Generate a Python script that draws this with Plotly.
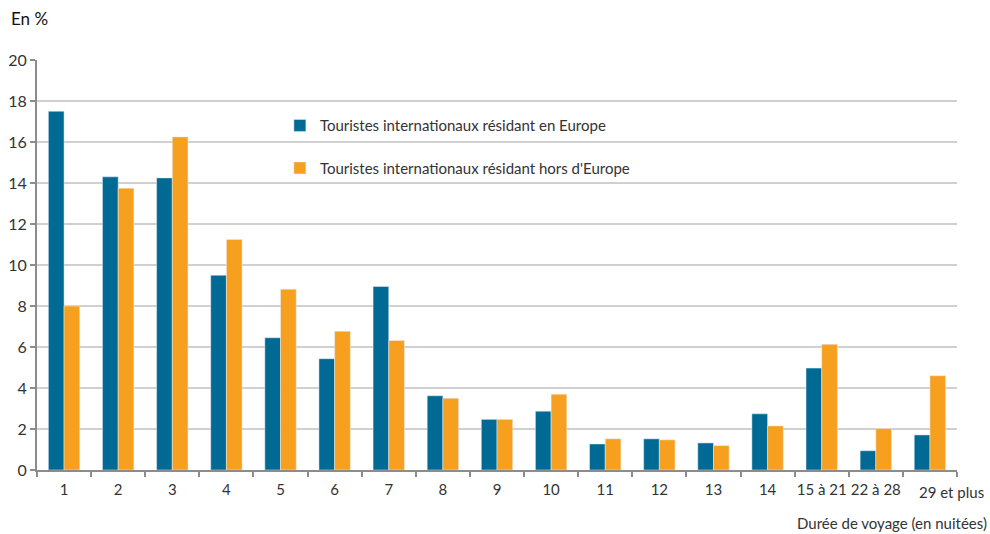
import plotly.graph_objects as go

categories = ["1", "2", "3", "4", "5", "6", "7", "8", "9", "10", "11", "12", "13", "14",
              "15 à 21", "22 à 28", "29 et plus"]
europe = [17.5, 14.3, 14.25, 9.5, 6.45, 5.43, 8.95, 3.62, 2.47, 2.87, 1.27, 1.52, 1.32, 2.74,
          4.97, 0.94, 1.71]
hors_europe = [8.0, 13.75, 16.25, 11.25, 8.82, 6.77, 6.32, 3.5, 2.47, 3.7, 1.52, 1.47, 1.19, 2.15,
               6.13, 2.02, 4.6]
series_names = ["Touristes internationaux résidant en Europe",
                "Touristes internationaux résidant hors d'Europe"]
y_ticks = [0, 2, 4, 6, 8, 10, 12, 14, 16, 18, 20]
# last label is drawn separately (it overflows to the right in the reference)
tick_labels = categories[:-1] + [""]

FONT = "Lato"
BLUE = "#006a94"
ORANGE = "#f7a01f"
TXT = "#333333"

fig = go.Figure()
fig.add_trace(go.Bar(x=categories, y=europe, name=series_names[0], marker_color=BLUE,
                     legendgroup="a"))
fig.add_trace(go.Bar(x=categories, y=hors_europe, name=series_names[1], marker_color=ORANGE,
                     legendgroup="b"))

fig.update_layout(
    width=990, height=534,
    margin=dict(l=37, r=33, t=60, b=64, autoexpand=False),
    paper_bgcolor="white", plot_bgcolor="white",
    barmode="group", bargap=0.42, bargroupgap=0,
    font=dict(family=FONT, size=14, color=TXT),
    legend=dict(x=0.264, y=0.88, xanchor="left", yanchor="top",
                bgcolor="rgba(0,0,0,0)", tracegroupgap=20,
                font=dict(family=FONT, size=15, color=TXT),
                itemwidth=30),
    xaxis=dict(type="category", range=[-0.5, len(categories) - 0.5],
               showline=True, linecolor="#8c8c8c", linewidth=2,
               ticks="outside", tickson="boundaries", ticklen=5, tickcolor="#8c8c8c",
               tickwidth=2, tickangle=0, automargin=False, ticklabelstandoff=5,
               tickvals=categories, ticktext=tick_labels,
               tickfont=dict(size=15, color=TXT), showgrid=False),
    yaxis=dict(range=[0, 20], tickvals=y_ticks, showline=True, linecolor="#8c8c8c",
               linewidth=2, ticks="outside", ticklen=5, tickcolor="#8c8c8c", tickwidth=2,
               gridcolor="#d0d0d0", gridwidth=1.5, zeroline=False, automargin=False,
               tickfont=dict(size=16, color=TXT)),
    showlegend=True,
)

fig.add_annotation(text=categories[-1], xref="x", yref="paper", x=categories[-1], y=0,
                   xanchor="center", yanchor="top", xshift=22, yshift=-11, showarrow=False,
                   font=dict(family=FONT, size=15, color=TXT))
fig.add_annotation(text="En %", xref="paper", yref="paper", x=0, y=1, xanchor="left",
                   yanchor="middle", xshift=-28, yshift=42, showarrow=False,
                   font=dict(family=FONT, size=17, color="#111111"))
fig.add_annotation(text="Durée de voyage (en nuitées)", xref="paper", yref="paper", x=1, y=0,
                   xanchor="right", yanchor="middle", xshift=32, yshift=-53, showarrow=False,
                   font=dict(family=FONT, size=15, color=TXT))

fig.write_html("out.html", config={"displayModeBar": False},
               post_script="document.body.style.margin='0';document.body.style.padding='0';")
